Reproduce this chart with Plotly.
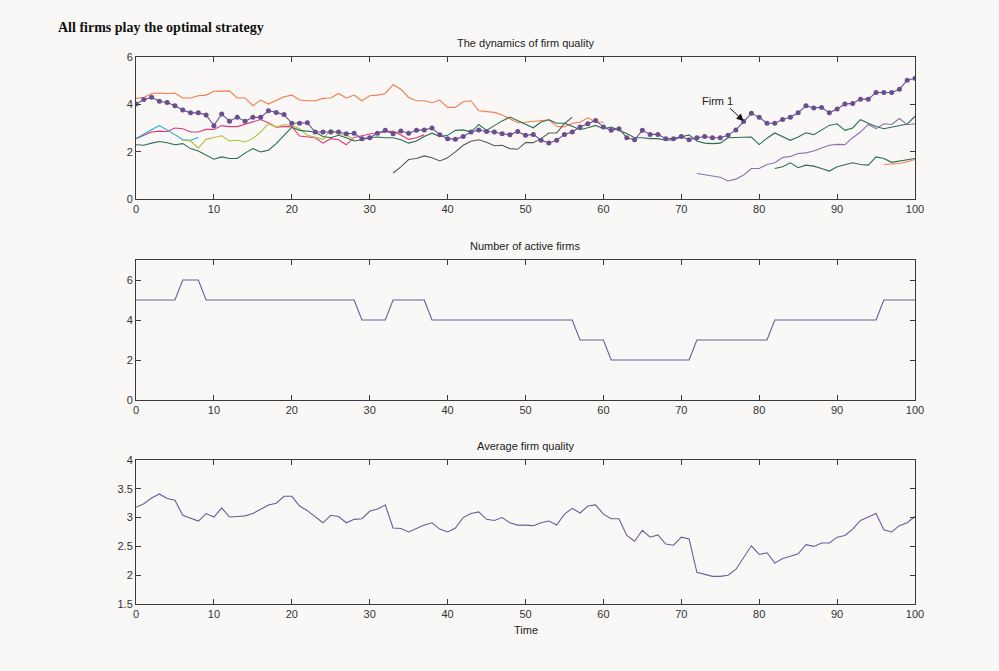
import plotly.graph_objects as go

# ---------------- data ----------------
time_max = 100

firm1_start = 0
firm1 = [4.01, 4.2, 4.3, 4.13, 4.08, 3.94, 3.76, 3.64, 3.64, 3.55, 3.1, 3.59, 3.29, 3.45, 3.29, 3.45, 3.45, 3.73, 3.66, 3.57,
         3.2, 3.2, 3.22, 2.83, 2.83, 2.83, 2.83, 2.76, 2.78, 2.55, 2.59, 2.78, 2.9, 2.76, 2.87, 2.78, 2.9, 2.92, 3.0, 2.71,
         2.55, 2.52, 2.64, 2.83, 2.92, 2.85, 2.83, 2.76, 2.71, 2.85, 2.69, 2.73, 2.48, 2.37, 2.48, 2.73, 2.83, 3.04, 3.18, 3.32,
         3.04, 2.9, 2.97, 2.59, 2.5, 2.9, 2.73, 2.73, 2.55, 2.55, 2.64, 2.5, 2.59, 2.64, 2.59, 2.59, 2.69, 2.92, 3.27, 3.62,
         3.45, 3.2, 3.2, 3.36, 3.45, 3.64, 3.94, 3.85, 3.87, 3.64, 3.8, 4.01, 4.04, 4.22, 4.22, 4.5, 4.5, 4.5, 4.64, 5.02, 5.1]

orange_a_start = 0
orange_a = [4.25, 4.29, 4.46, 4.48, 4.46, 4.48, 4.27, 4.27, 4.36, 4.39, 4.55, 4.55, 4.57, 4.27, 4.27, 3.94, 4.18, 4.01, 4.18, 4.32,
            4.39, 4.18, 4.15, 4.15, 4.25, 4.27, 4.46, 4.27, 4.39, 4.15, 4.36, 4.39, 4.46, 4.83, 4.64, 4.29, 4.15, 4.15, 4.07, 4.18,
            3.87, 3.87, 4.11, 4.15, 3.73, 3.71, 3.66, 3.55, 3.37, 3.22, 3.24, 3.27, 3.31, 3.35, 3.07, 3.04, 3.2, 3.24, 3.43, 3.24,
            3.24]

green_a_start = 0
green_a = [2.29, 2.27, 2.36, 2.43, 2.38, 2.29, 2.34, 2.13, 2.03, 1.85, 1.68, 1.78, 1.71, 1.71, 1.94, 2.13, 1.99, 2.06, 2.34, 2.69,
           3.03, 2.9, 2.87, 2.83, 2.64, 2.59, 2.69, 2.59, 2.45, 2.5, 2.59, 2.62, 2.59, 2.59, 2.5, 2.36, 2.45, 2.64, 2.78, 2.64,
           2.69, 2.9, 2.92, 2.83, 3.15, 2.9, 3.1, 3.3, 3.46, 3.32, 3.18, 3.01, 3.25, 3.35, 3.2, 3.2, 3.07, 2.93, 3.01, 3.11,
           2.97, 3.04, 2.9, 2.77, 2.59, 2.59, 2.55, 2.55, 2.48, 2.5, 2.62, 2.71, 2.45, 2.36, 2.34, 2.36, 2.59, 2.59, 2.6, 2.62,
           2.3, 2.57, 2.79, 2.62, 2.48, 2.62, 2.8, 2.72, 2.93, 3.11, 3.18, 2.9, 3.0, 3.35, 3.2, 3.06, 2.97, 3.04, 3.1, 3.17,
           3.49]

pink_start = 0
pink = [2.55, 2.69, 2.83, 2.87, 2.85, 3.0, 2.97, 2.83, 2.83, 2.94, 2.94, 3.1, 3.06, 3.06, 3.15, 3.25, 3.36, 3.22, 3.03, 3.06,
        3.06, 2.66, 2.62, 2.59, 2.36, 2.55, 2.5, 2.29, 2.6, 2.69, 2.75, 2.8, 2.85, 2.87, 2.7, 2.52, 2.59, 2.71]

cyan_start = 0
cyan = [2.55, 2.75, 2.93, 3.1, 2.92, 2.72, 2.5, 2.48, 2.6]

yellow_start = 6
yellow = [2.48, 2.45, 2.16, 2.52, 2.6, 2.67, 2.45, 2.48, 2.41, 2.55, 2.83, 3.18, 3.04, 3.15, 3.11, 2.97, 2.69, 2.62, 2.52, 2.94,
          2.76, 2.69, 2.52]

gray_start = 33
gray = [1.1, 1.36, 1.67, 1.71, 1.82, 1.74, 1.61, 1.74, 1.99, 2.27, 2.44, 2.5, 2.4, 2.25, 2.27, 2.13, 2.1, 2.38, 2.38, 2.55,
        2.79, 2.79, 3.18, 3.46]

lilac_start = 72
lilac = [1.08, 1.01, 0.97, 0.92, 0.76, 0.84, 1.01, 1.29, 1.29, 1.46, 1.53, 1.75, 1.8, 1.92, 1.95, 2.03, 2.16, 2.27, 2.31, 2.3,
         2.59, 2.83, 3.15, 2.97, 3.18, 3.15, 3.4, 3.14, 3.18]

green_b_start = 82
green_b = [1.29, 1.36, 1.53, 1.32, 1.43, 1.39, 1.29, 1.18, 1.36, 1.46, 1.53, 1.46, 1.43, 1.78, 1.71, 1.55, 1.6, 1.67, 1.71]

orange_b_start = 96
orange_b = [1.46, 1.47, 1.5, 1.57, 1.67]

active_firms = [5, 5, 5, 5, 5, 5, 6, 6, 6, 5, 5, 5, 5, 5, 5, 5, 5, 5, 5, 5,
                5, 5, 5, 5, 5, 5, 5, 5, 5, 4, 4, 4, 4, 5, 5, 5, 5, 5, 4, 4,
                4, 4, 4, 4, 4, 4, 4, 4, 4, 4, 4, 4, 4, 4, 4, 4, 4, 3, 3, 3,
                3, 2, 2, 2, 2, 2, 2, 2, 2, 2, 2, 2, 3, 3, 3, 3, 3, 3, 3, 3,
                3, 3, 4, 4, 4, 4, 4, 4, 4, 4, 4, 4, 4, 4, 4, 4, 5, 5, 5, 5,
                5]

avg_quality = [3.18, 3.24, 3.34, 3.41, 3.33, 3.3, 3.04, 2.99, 2.94, 3.07, 3.01, 3.17, 3.01, 3.02, 3.03, 3.07, 3.15, 3.22, 3.25, 3.37,
               3.37, 3.2, 3.12, 3.01, 2.91, 3.04, 3.02, 2.91, 2.97, 2.98, 3.11, 3.15, 3.22, 2.82, 2.81, 2.75, 2.81, 2.87, 2.91, 2.8,
               2.75, 2.82, 3.0, 3.07, 3.1, 2.97, 2.95, 3.0, 2.91, 2.87, 2.87, 2.86, 2.91, 2.94, 2.87, 3.06, 3.16, 3.08, 3.2, 3.22,
               3.06, 2.98, 2.98, 2.69, 2.59, 2.78, 2.66, 2.7, 2.54, 2.52, 2.66, 2.63, 2.05, 2.01, 1.98, 1.98, 2.0, 2.1, 2.3, 2.51,
               2.36, 2.39, 2.21, 2.29, 2.33, 2.37, 2.53, 2.5, 2.56, 2.56, 2.66, 2.69, 2.8, 2.95, 3.01, 3.07, 2.79, 2.75, 2.86, 2.91,
               3.02]

fig_title = "All firms play the optimal strategy"
titles = ["The dynamics of firm quality", "Number of active firms", "Average firm quality"]
x_label = "Time"
firm1_label = "Firm 1"

# ---------------- styling ----------------
BG = "#f9f8f6"
AX = "#3a3a3a"
W, H = 999, 671

def px_x(p):
    return p / W

def px_y(p):
    return 1 - p / H

fig = go.Figure()

def add_series(start, vals, color, axis_suffix="", markers=False):
    xs = list(range(start, start + len(vals)))
    fig.add_trace(go.Scatter(
        x=xs, y=vals, mode="lines+markers" if markers else "lines",
        line=dict(color=color, width=1.1),
        marker=dict(size=5, color=color) if markers else None,
        xaxis="x" + axis_suffix, yaxis="y" + axis_suffix,
        showlegend=False, hoverinfo="skip", cliponaxis=True))

add_series(orange_a_start, orange_a, "#f47b4a")
add_series(pink_start, pink, "#e03a78")
add_series(cyan_start, cyan, "#23a9c9")
add_series(yellow_start, yellow, "#b4be3c")
add_series(green_a_start, green_a, "#2b6e50")
add_series(gray_start, gray, "#585858")
add_series(lilac_start, lilac, "#8d70ad")
add_series(green_b_start, green_b, "#2b6e50")
add_series(orange_b_start, orange_b, "#f47b4a")
add_series(firm1_start, firm1, "#6a4e90", markers=True)

add_series(0, active_firms, "#6e5a9c", axis_suffix="2")
add_series(0, avg_quality, "#6e5a9c", axis_suffix="3")

x_dom = [px_x(136), px_x(915)]
doms = [(57, 199), (260, 400), (460, 604)]

axis_common = dict(showline=True, linecolor=AX, linewidth=1, mirror="ticks", ticks="inside",
                   ticklen=5, tickcolor=AX, tickwidth=1, showgrid=False, zeroline=False,
                   automargin=False, fixedrange=True,
                   tickfont=dict(family="Liberation Sans, Arial, sans-serif", size=11, color="#333333"))

layout = dict(
    width=W, height=H, autosize=False, margin=dict(l=0, r=0, t=0, b=0, pad=0, autoexpand=False),
    paper_bgcolor=BG, plot_bgcolor=BG, showlegend=False,
)
for i, (top, bot) in enumerate(doms):
    suf = "" if i == 0 else str(i + 1)
    layout["xaxis" + suf] = dict(axis_common, domain=x_dom, range=[0, 100], dtick=10,
                                 anchor="y" + suf)
    ydict = dict(axis_common, domain=[px_y(bot), px_y(top)], anchor="x" + suf)
    if i == 0:
        ydict.update(range=[0, 6], dtick=2)
    elif i == 1:
        ydict.update(range=[0, 7], tickvals=[0, 2, 4, 6])
    else:
        ydict.update(range=[1.5, 4], dtick=0.5)
    layout["yaxis" + suf] = ydict

fig.update_layout(**layout)

lab_font = dict(family="Liberation Sans, Arial, sans-serif", size=11, color="#222222")
for (top, bot), t in zip(doms, titles):
    fig.add_annotation(x=(x_dom[0] + x_dom[1]) / 2, y=px_y(top - 6), xref="paper", yref="paper",
                       text=t, showarrow=False, xanchor="center", yanchor="bottom", font=lab_font)

fig.add_annotation(x=(x_dom[0] + x_dom[1]) / 2, y=px_y(622), xref="paper", yref="paper",
                   text=x_label, showarrow=False, xanchor="center", yanchor="top", font=lab_font)

fig.add_annotation(x=px_x(56), y=px_y(27), xref="paper", yref="paper", text="<b>" + fig_title + "</b>",
                   showarrow=False, xanchor="left", yanchor="middle",
                   font=dict(family="Liberation Serif, Times New Roman, serif", size=14, color="#111111"))

# Firm 1 label and arrow
fig.add_annotation(x=74.7, y=4.16, xref="x", yref="y", text=firm1_label, showarrow=False,
                   xanchor="center", yanchor="middle", font=lab_font)
fig.add_annotation(x=78, y=3.3, xref="x", yref="y", text="", showarrow=True,
                   ax=-15, ay=-14, arrowhead=2, arrowsize=1.4, arrowwidth=1, arrowcolor="#111111",
                   standoff=0)

fig.write_html("out.html",
               config={"displayModeBar": False, "responsive": False, "staticPlot": True},
               post_script="document.body.style.margin='0';document.body.style.overflow='hidden';"
                           "document.body.style.background='" + BG + "';")
